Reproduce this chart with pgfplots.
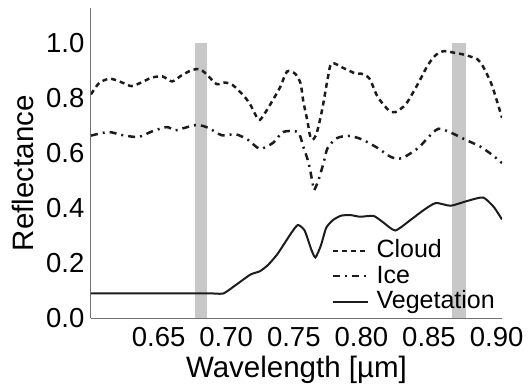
\documentclass[border=0pt]{standalone}
\usepackage{pgfplots}
\pgfplotsset{compat=1.18}
\usepackage{fontspec}
\setmainfont{Liberation Sans}
\definecolor{linec}{HTML}{1C1C1C}
\definecolor{bargray}{HTML}{C8C8C8}
\definecolor{axgray}{HTML}{707070}
\newcommand{\fa}{\fontsize{27.5}{32}\selectfont}
\newcommand{\fl}{\fontsize{29.5}{34}\selectfont}
\newcommand{\fb}{\fontsize{25}{29}\selectfont}
\begin{document}
\begin{tikzpicture}
\begin{axis}[name=ax, at={(0,0)}, anchor=south west,
  scale only axis, width=411pt, height=310.5pt,
  xmin=0.6, xmax=0.904, ymin=0, ymax=1.129,
  axis x line*=bottom, axis y line*=left,
  axis line style={-, draw=axgray, line width=1pt},
  xtick={0.65,0.70,0.75,0.80,0.85,0.90},
  xticklabels={0.65,0.70,0.75,0.80,0.85,0.90},
  ytick={0,0.2,0.4,0.6,0.8,1.0},
  yticklabels={0.0,0.2,0.4,0.6,0.8,1.0},
  major tick length=0pt, tick style={draw=none},
  xticklabel style={font=\fa, inner sep=0pt, anchor=north, yshift=-9pt},
  yticklabel style={font=\fa, inner sep=0pt, anchor=east, xshift=-6.5pt},
  xlabel={Wavelength [µm]},
  ylabel={Reflectance},
  every axis x label/.style={at={(axis description cs:0.5,0)}, anchor=base, yshift=-58.5pt, inner sep=0pt, font=\fl},
  every axis y label/.style={at={(axis description cs:-0.1387,0.468)}, anchor=base, rotate=90, inner sep=0pt, font=\fl},
  legend style={draw=none, fill=none, inner sep=0pt, outer sep=0pt,
    at={(axis cs:0.778,0.014)}, anchor=south west, font=\fb,
    row sep=0pt,
    nodes={text height=18.5pt, text depth=5pt, inner sep=1pt},
    /tikz/every odd column/.append style={column sep=7pt}},
  legend cell align=left,
  legend image code/.code={\draw[#1, line width=1.9pt] (0pt,0.3pt) -- (35pt,0.3pt);},
]
\addplot[fill=bargray, draw=none, forget plot] coordinates {(0.677,1.0) (0.686,1.0)} \closedcycle;
\addplot[fill=bargray, draw=none, forget plot] coordinates {(0.867,1.0) (0.877,1.0)} \closedcycle;
% Cloud
\addplot[linec, line width=2.5pt, dash pattern=on 5pt off 4pt, smooth, tension=0.45] coordinates {
(0.600,0.815) (0.606,0.856) (0.614,0.872) (0.623,0.858) (0.630,0.845) (0.638,0.860) (0.645,0.876) (0.653,0.880) (0.660,0.862) (0.667,0.884) (0.675,0.904) (0.681,0.906) (0.687,0.880) (0.693,0.852) (0.699,0.858) (0.705,0.848) (0.713,0.810) (0.718,0.776) (0.724,0.722) (0.728,0.742) (0.734,0.790) (0.740,0.842) (0.745,0.898) (0.751,0.890) (0.755,0.855) (0.757,0.790) (0.760,0.720) (0.762,0.665) (0.764,0.650) (0.767,0.675) (0.771,0.760) (0.775,0.870) (0.778,0.928) (0.787,0.910) (0.796,0.890) (0.800,0.890) (0.806,0.872) (0.812,0.806) (0.820,0.758) (0.825,0.750) (0.833,0.780) (0.842,0.855) (0.849,0.920) (0.855,0.958) (0.861,0.972) (0.870,0.965) (0.877,0.958) (0.886,0.942) (0.890,0.916) (0.896,0.855) (0.900,0.795) (0.904,0.730)};
% Ice
\addplot[linec, line width=2.5pt, dash pattern=on 7pt off 5pt on 2pt off 5pt, smooth, tension=0.45] coordinates {
(0.600,0.665) (0.613,0.678) (0.623,0.667) (0.635,0.660) (0.645,0.680) (0.656,0.696) (0.662,0.684) (0.667,0.690) (0.677,0.703) (0.683,0.700) (0.688,0.690) (0.697,0.666) (0.707,0.670) (0.716,0.650) (0.725,0.617) (0.735,0.640) (0.742,0.678) (0.753,0.678) (0.757,0.625) (0.761,0.565) (0.764,0.490) (0.765,0.467) (0.768,0.500) (0.772,0.565) (0.775,0.620) (0.782,0.656) (0.790,0.664) (0.795,0.660) (0.801,0.650) (0.812,0.620) (0.822,0.587) (0.830,0.583) (0.842,0.620) (0.849,0.656) (0.857,0.690) (0.867,0.674) (0.877,0.650) (0.888,0.625) (0.897,0.594) (0.904,0.565)};
% Vegetation
\addplot[linec, line width=2pt, smooth, tension=0.35] coordinates {
(0.600,0.091) (0.650,0.091) (0.690,0.091) (0.698,0.091) (0.708,0.125) (0.718,0.160) (0.725,0.172) (0.731,0.195) (0.738,0.235) (0.748,0.310) (0.753,0.340) (0.758,0.320) (0.763,0.250) (0.766,0.222) (0.770,0.265) (0.774,0.330) (0.779,0.358) (0.785,0.374) (0.792,0.376) (0.799,0.370) (0.809,0.373) (0.816,0.350) (0.825,0.320) (0.836,0.357) (0.846,0.394) (0.855,0.420) (0.866,0.410) (0.878,0.427) (0.890,0.440) (0.898,0.405) (0.904,0.360)};
\legend{Cloud, Ice, Vegetation}
\end{axis}
\pgfresetboundingbox
\path[use as bounding box] ([xshift=-91pt,yshift=-69.5pt]ax.south west) rectangle ([xshift=28pt,yshift=8pt]ax.north east);
\end{tikzpicture}
\end{document}
